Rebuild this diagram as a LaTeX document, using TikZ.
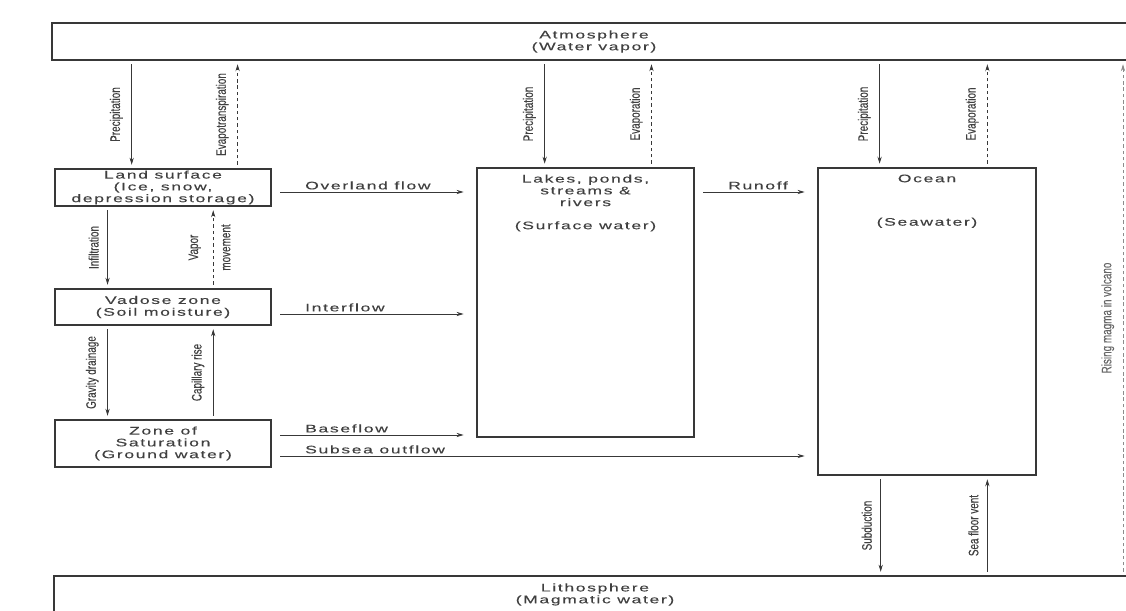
\documentclass[tikz,border=0pt]{standalone}
\usepackage{fontspec}
\usepackage{tikz}
\usetikzlibrary{arrows.meta,calc,positioning}
\newfontfamily\boxfont[FakeStretch=1.6,LetterSpace=15,FakeBold=0.15]{Liberation Sans}
\newfontfamily\condfont[FakeStretch=0.72,FakeBold=0.2]{Liberation Sans}
\definecolor{ink}{gray}{0.22}
\definecolor{print}{gray}{0.25}
\tikzstyle{store}=[draw=ink,line width=1pt,inner sep=0pt,align=center,text=print,font=\boxfont\fontsize{7.8}{8.4}\selectfont]
\tikzstyle{storetext}=[inner sep=0pt,align=center,text=print,font=\boxfont\fontsize{7.8}{8.4}\selectfont]
\tikzstyle{flow}=[draw=ink,line width=0.6pt,-{Stealth[length=5pt,width=3pt]},shorten >=2.5pt,shorten <=2.5pt]
\tikzstyle{vapour}=[flow,dash pattern=on 2.5pt off 2pt]
\tikzstyle{sideflow}=[flow,shorten <=6pt,shorten >=9pt]
\tikzstyle{vlabel}=[midway,rotate=90,anchor = south,inner sep=6pt,text=print,font=\condfont\fontsize{9.8}{10}\selectfont]
\tikzstyle{hlabel}=[pos=0,anchor = south west,xshift=22pt,inner sep=1.5pt,text=print,font=\boxfont\fontsize{7.8}{8.4}\selectfont]

\begin{document}
\begin{tikzpicture}[x=0.025cm,y=-0.025cm]
\useasboundingbox (0,0) rectangle (1126,611);
\clip (0,0) rectangle (1126,611);

\node[store,minimum width=27.1cm,minimum height=0.925cm] at (594, 41.5) (atmos) {Atmosphere\\(Water vapor)};
\node[store,minimum width=27.05cm,minimum height=0.925cm] at (595, 594.5) (litho) {Lithosphere\\(Magmatic water)};
\node[store,minimum width=5.4cm,minimum height=0.925cm] at (163, 187.5) (land) {Land surface\\(Ice, snow,\\depression storage)};
\node[store,minimum width=5.4cm,minimum height=0.9cm] at (163, 307) (vadose) {Vadose zone\\(Soil moisture)};
\node[store,minimum width=5.4cm,minimum height=1.175cm] at (163, 443.5) (sat) {Zone of\\Saturation\\(Ground water)};
\node[store,minimum width=5.425cm,minimum height=6.725cm] at (585.5, 302.5) (lakes) {};
\node[store,minimum width=5.45cm,minimum height=7.675cm] at (927, 321.5) (ocean) {};
\node[storetext,below=5pt of lakes.north] (lakestext) {Lakes, ponds,\\streams \&\\rivers\\[8pt](Surface water)};
\node[storetext,below=5pt of ocean.north] (oceantext) {Ocean\\[22.5pt](Seawater)};

\coordinate (landrain) at ($(land.north west)!.356!(land.north east)$);
\coordinate (landevap) at ($(land.north west)!.843!(land.north east)$);
\coordinate (landdown) at ($(land.south west)!.245!(land.south east)$);
\coordinate (landup) at ($(land.south west)!.731!(land.south east)$);
\coordinate (lakerain) at ($(lakes.north west)!.313!(lakes.north east)$);
\coordinate (lakeevap) at ($(lakes.north west)!.802!(lakes.north east)$);
\coordinate (searain) at ($(ocean.north west)!.284!(ocean.north east)$);
\coordinate (seaevap) at ($(ocean.north west)!.775!(ocean.north east)$);
\coordinate (seadown) at ($(ocean.south west)!.289!(ocean.south east)$);
\coordinate (seaup) at ($(ocean.south west)!.775!(ocean.south east)$);
\coordinate (magma) at (1123, 300);

\draw[flow] (atmos.south -| landrain) -- (landrain) node[vlabel] {Precipitation};
\draw[vapour] (landevap) -- (atmos.south -| landevap) node[vlabel] {Evapotranspiration};
\draw[flow] (atmos.south -| lakerain) -- (lakerain) node[vlabel] {Precipitation};
\draw[vapour] (lakeevap) -- (atmos.south -| lakeevap) node[vlabel] {Evaporation};
\draw[flow] (atmos.south -| searain) -- (searain) node[vlabel] {Precipitation};
\draw[vapour] (seaevap) -- (atmos.south -| seaevap) node[vlabel] {Evaporation};

\draw[flow] (landdown) -- (vadose.north -| landdown) node[vlabel] {Infiltration};
\draw[vapour] (vadose.north -| landup) -- (landup) node[vlabel,inner sep=8.5pt] {Vapor} node[vlabel,anchor = north,inner sep=5.5pt] {movement};
\draw[flow] (vadose.south -| landdown) -- (sat.north -| landdown) node[vlabel] {Gravity drainage};
\draw[flow] (sat.north -| landup) -- (vadose.south -| landup) node[vlabel] {Capillary rise};

\draw[flow] (seadown) -- (litho.north -| seadown) node[vlabel] {Subduction};
\draw[flow] (litho.north -| seaup) -- (seaup) node[vlabel] {Sea floor vent};
\draw[vapour,draw=black!45] (litho.north -| magma) -- (atmos.south -| magma) node[vlabel,text=black!60] {Rising magma in volcano};

\draw[sideflow] ($(land.east)+(0,4.5)$) -- ($(lakes.west |- land.east)+(0,4.5)$) node[hlabel] {Overland flow};
\draw[sideflow] ($(vadose.east)+(0,7)$) -- ($(lakes.west |- vadose.east)+(0,7)$) node[hlabel] {Interflow};
\draw[sideflow] ($(sat.east)+(0,-8.5)$) -- ($(lakes.west |- sat.east)+(0,-8.5)$) node[hlabel] {Baseflow};
\draw[sideflow] ($(sat.east)+(0,12.5)$) -- ($(ocean.west |- sat.east)+(0,12.5)$) node[hlabel] {Subsea outflow};
\draw[sideflow] ($(lakes.east |- land.east)+(0,4.5)$) -- ($(ocean.west |- land.east)+(0,4.5)$) node[hlabel] {Runoff};
\end{tikzpicture}
\end{document}
